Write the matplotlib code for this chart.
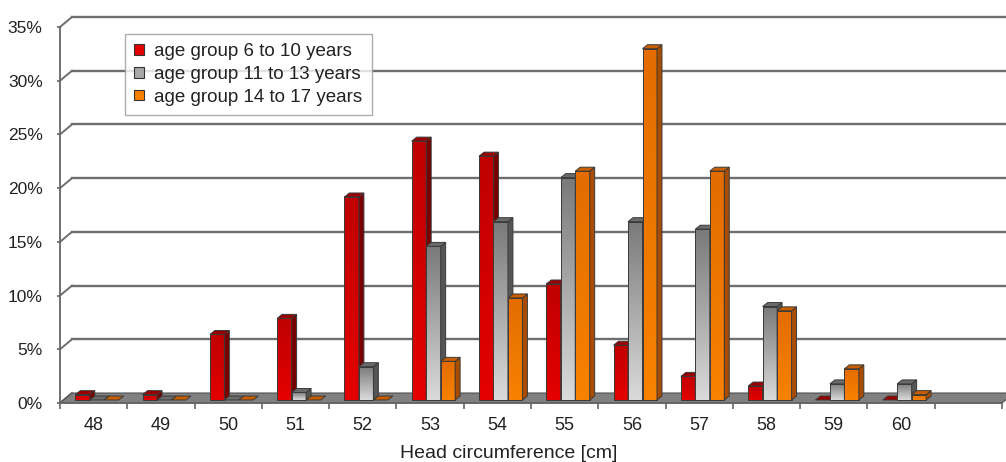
import numpy as np
import matplotlib.pyplot as plt
from matplotlib.patches import Polygon, Patch
from matplotlib.colors import LinearSegmentedColormap

plt.rcParams['font.family'] = ['Liberation Sans', 'DejaVu Sans']

# Head circumference classes [cm] and share of each age group [%]
categories = ['48', '49', '50', '51', '52', '53', '54', '55', '56', '57', '58', '59', '60']
series_names = ['age group 6 to 10 years', 'age group 11 to 13 years', 'age group 14 to 17 years']
age_6_10 = [0.5, 0.5, 6.1, 7.6, 18.9, 24.1, 22.7, 10.8, 5.1, 2.2, 1.3, 0.0, 0.0]
age_11_13 = [0.0, 0.0, 0.0, 0.7, 3.1, 14.3, 16.6, 20.7, 16.6, 15.9, 8.7, 1.5, 1.5]
age_14_17 = [0.0, 0.0, 0.0, 0.0, 0.0, 3.6, 9.5, 21.3, 32.7, 21.3, 8.3, 2.9, 0.5]
y_ticks = [0, 5, 10, 15, 20, 25, 30, 35]
n_slots = len(categories) + 1  # one empty slot after the last class

# colours: (front top, front bottom, top face, side face)
styles = [
    ('#c00000', '#e40000', '#9a0000', '#7a0000'),
    ('#7a7a7a', '#dadada', '#6a6a6a', '#555555'),
    ('#e46c00', '#f88200', '#c85e00', '#a84c00'),
]

fig = plt.figure(figsize=(10.06, 4.62), dpi=100)
W, H = 1006, 462
ax = fig.add_axes([60 / W, (H - 403) / H, 942 / W, 376 / H])
xmin, xmax = -0.5, n_slots - 0.5
ax.set_xlim(xmin, xmax)
ax.set_ylim(0, 35)

# pseudo-3D geometry (data units)
wall_dx, wall_dy = 0.178, 0.93     # depth of the floor / back wall
bar_dx, bar_dy = 0.074, 0.37       # depth of each column
base_dx, base_dy = 0.05, 0.28      # columns stand slightly behind the front edge
bar_w = 0.215
edge = '#3a3a3a'

# back wall grid lines and slanted connectors to the value axis
for t in y_ticks:
    if t > 0:
        ax.plot([xmin + wall_dx, xmax + wall_dx + 1], [t + wall_dy, t + wall_dy],
                color='#6e6e6e', lw=1.7, clip_on=False, zorder=1)
    ax.plot([xmin, xmin + wall_dx], [t, t + wall_dy], color='#6e6e6e', lw=1.4,
            clip_on=False, zorder=1)

# floor
floor = Polygon([[xmin, 0], [xmax, 0], [xmax + wall_dx, wall_dy], [xmin + wall_dx, wall_dy]],
                closed=True, facecolor='#808080', edgecolor='#505050', lw=0.8,
                clip_on=False, zorder=2)
ax.add_patch(floor)

series = [age_6_10, age_11_13, age_14_17]
grad = np.linspace(0, 1, 64).reshape(-1, 1)
for i in range(len(categories)):
    for s, vals in enumerate(series):
        v = vals[i]
        top_c, bot_c, face_top, face_side = styles[s]
        x0 = i + base_dx - 1.5 * bar_w + s * bar_w
        y0 = base_dy
        x1 = x0 + bar_w
        y1 = y0 + v
        z = 3 + i * 3 + s
        if v > 0:
            cmap = LinearSegmentedColormap.from_list('g', [top_c, bot_c])
            ax.imshow(grad, cmap=cmap, extent=(x0, x1, y0, y1), aspect='auto',
                      interpolation='bilinear', zorder=z)
            ax.add_patch(Polygon([[x0, y0], [x1, y0], [x1, y1], [x0, y1]], closed=True,
                                 facecolor='none', edgecolor=edge, lw=0.7, zorder=z))
            ax.add_patch(Polygon([[x1, y0], [x1 + bar_dx, y0 + bar_dy],
                                  [x1 + bar_dx, y1 + bar_dy], [x1, y1]], closed=True,
                                 facecolor=face_side, edgecolor=edge, lw=0.7, zorder=z))
        ax.add_patch(Polygon([[x0, y1], [x1, y1], [x1 + bar_dx, y1 + bar_dy],
                              [x0 + bar_dx, y1 + bar_dy]], closed=True,
                             facecolor=face_top, edgecolor=edge, lw=0.7, zorder=z))

ax.set_xlim(xmin, xmax)
ax.set_ylim(0, 35)

# axes styling
for side in ('top', 'right'):
    ax.spines[side].set_visible(False)
for side in ('left', 'bottom'):
    ax.spines[side].set_color('#666666')
    ax.spines[side].set_linewidth(1.3)
    ax.spines[side].set_zorder(2.5)

ax.set_yticks(y_ticks)
ax.set_yticklabels([f'{t}%' for t in y_ticks])
ax.tick_params(axis='y', length=2.5, width=1.2, color='#666666', pad=10,
               labelsize=12.5, labelcolor='#222222')

ax.set_xticks(range(len(categories)))
ax.set_xticklabels(categories)
ax.set_xticks(np.arange(xmin, xmax + 0.01, 1.0), minor=True)
ax.tick_params(axis='x', which='major', length=0, pad=10, labelsize=13, labelcolor='#222222')
ax.tick_params(axis='x', which='minor', length=4.5, width=1.2, color='#666666')

ax.set_xlabel('Head circumference [cm]', fontsize=14, color='#222222')
ax.xaxis.set_label_coords((509 - 60) / 942, -(445 - 403) / 376)

handles = [Patch(facecolor=st[1] if k != 1 else '#a8a8a8', edgecolor='#333333', lw=0.8)
           for k, st in enumerate(styles)]
leg = fig.legend(handles, series_names, loc='upper left',
                 bbox_to_anchor=(125 / W, 1 - 34 / H), bbox_transform=fig.transFigure,
                 fontsize=13.5, frameon=True, fancybox=False, borderaxespad=0,
                 handlelength=0.5, handleheight=0.5, handletextpad=0.55,
                 borderpad=0.5, labelspacing=0.3)
leg.get_frame().set_edgecolor('#999999')
leg.get_frame().set_linewidth(1.0)
for txt in leg.get_texts():
    txt.set_color('#222222')

fig.savefig('out.png', dpi=100)
